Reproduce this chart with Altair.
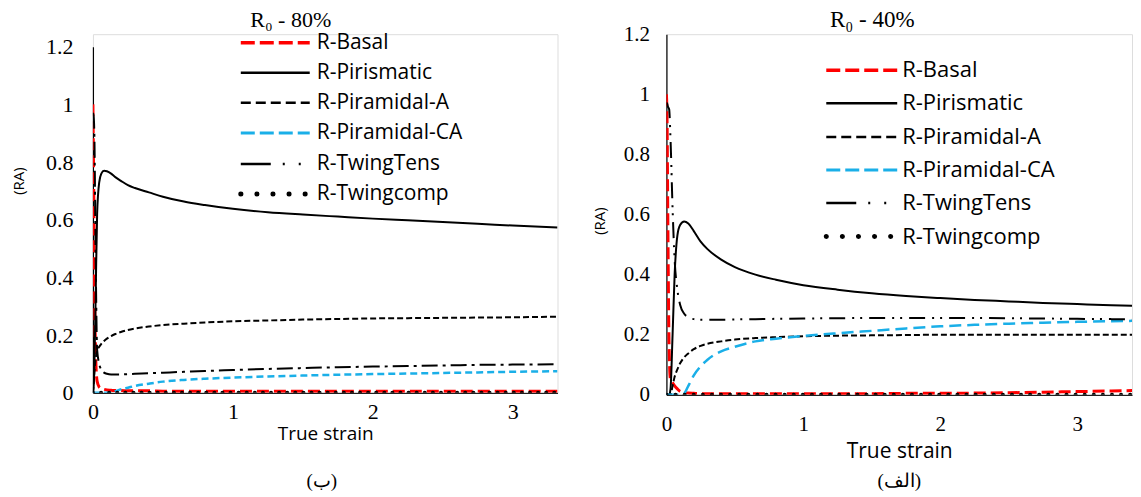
import altair as alt
import pandas as pd

SERIES = ["R-Basal", "R-Pirismatic", "R-Piramidal-A", "R-Piramidal-CA", "R-TwingTens", "R-Twingcomp"]

# ---------------- left panel (R0 - 80%) ----------------
L_STRAIN = [0, 0.005, 0.01, 0.02, 0.03, 0.045, 0.06, 0.08, 0.1, 0.13, 0.16, 0.2, 0.25, 0.3,
            0.4, 0.5, 0.65, 0.8, 1.0, 1.25, 1.5, 1.75, 2.0, 2.25, 2.5, 2.75, 3.0, 3.32]
L_BASAL = [1.0, 0.75, 0.45, 0.12, 0.04, 0.02, 0.015, 0.012, 0.01, 0.009, 0.008, 0.008, 0.007, 0.007,
           0.007, 0.006, 0.006, 0.006, 0.006, 0.006, 0.006, 0.006, 0.006, 0.006, 0.006, 0.006, 0.006, 0.006]
L_PIRISMATIC = [0.0, 0.02, 0.08, 0.35, 0.62, 0.73, 0.76, 0.77, 0.768, 0.76, 0.748, 0.735, 0.72, 0.71,
                0.695, 0.68, 0.663, 0.651, 0.638, 0.626, 0.618, 0.611, 0.604, 0.598, 0.592, 0.586, 0.58, 0.573]
L_PIR_A = [0.0, 0.03, 0.07, 0.12, 0.145, 0.16, 0.17, 0.18, 0.188, 0.197, 0.204, 0.211, 0.218, 0.223,
           0.23, 0.235, 0.24, 0.244, 0.248, 0.251, 0.254, 0.256, 0.258, 0.259, 0.26, 0.261, 0.262, 0.264]
L_PIR_CA = [0.0, 0.0, 0.0, 0.0, 0.0, 0.0, 0.0, 0.0, 0.0, 0.002, 0.006, 0.012, 0.018, 0.024,
            0.032, 0.039, 0.045, 0.049, 0.053, 0.057, 0.06, 0.063, 0.065, 0.067, 0.069, 0.071, 0.073, 0.075]
L_TENS = [0.97, 0.96, 0.9, 0.45, 0.15, 0.1, 0.08, 0.07, 0.066, 0.064, 0.064, 0.064, 0.065, 0.066,
          0.068, 0.07, 0.073, 0.076, 0.079, 0.083, 0.086, 0.089, 0.091, 0.093, 0.095, 0.097, 0.098, 0.099]
L_COMP = [0.0, 0.0, 0.0, 0.0, 0.0, 0.0, 0.0, 0.0, 0.0, 0.0, 0.0, 0.0, 0.0, 0.0,
          0.0, 0.0, 0.0, 0.0, 0.0, 0.0, 0.0, 0.0, 0.0, 0.0, 0.0, 0.0, 0.0, 0.0]

# ---------------- right panel (R0 - 40%) ----------------
R_STRAIN = [0, 0.005, 0.01, 0.02, 0.03, 0.045, 0.06, 0.08, 0.1, 0.13, 0.16, 0.2, 0.25, 0.3,
            0.4, 0.5, 0.65, 0.8, 1.0, 1.25, 1.5, 1.75, 2.0, 2.25, 2.5, 2.75, 3.0, 3.25, 3.5]
R_BASAL = [1.0, 0.9, 0.6, 0.15, 0.05, 0.04, 0.03, 0.02, 0.012, 0.008, 0.006, 0.005, 0.004, 0.004,
           0.004, 0.004, 0.004, 0.004, 0.004, 0.004, 0.004, 0.005, 0.005, 0.006, 0.007, 0.009, 0.011, 0.013, 0.015]
R_PIRISMATIC = [0.0, 0.0, 0.0, 0.0, 0.02, 0.2, 0.4, 0.53, 0.565, 0.577, 0.57, 0.545, 0.51, 0.485,
                0.45, 0.425, 0.4, 0.383, 0.365, 0.35, 0.338, 0.329, 0.322, 0.316, 0.311, 0.306, 0.302, 0.298, 0.295]
R_PIR_A = [0.0, 0.0, 0.0, 0.0, 0.0, 0.03, 0.06, 0.085, 0.105, 0.125, 0.138, 0.152, 0.163, 0.17,
           0.178, 0.184, 0.189, 0.192, 0.195, 0.197, 0.198, 0.199, 0.2, 0.2, 0.2, 0.2, 0.2, 0.2, 0.2]
R_PIR_CA = [0.0, 0.0, 0.0, 0.0, 0.0, 0.0, 0.0, 0.0, 0.0, 0.005, 0.03, 0.065, 0.095, 0.117,
            0.145, 0.16, 0.178, 0.187, 0.196, 0.205, 0.213, 0.221, 0.228, 0.233, 0.237, 0.24, 0.243, 0.245, 0.247]
R_TENS = [0.97, 0.97, 0.96, 0.95, 0.85, 0.62, 0.45, 0.35, 0.3, 0.27, 0.258, 0.252, 0.25, 0.25,
          0.25, 0.251, 0.252, 0.253, 0.254, 0.255, 0.256, 0.256, 0.256, 0.256, 0.255, 0.254, 0.253, 0.252, 0.25]
R_COMP = [0.0, 0.0, 0.0, 0.0, 0.0, 0.0, 0.0, 0.0, 0.0, 0.0, 0.0, 0.0, 0.0, 0.0,
          0.0, 0.0, 0.0, 0.0, 0.0, 0.0, 0.0, 0.0, 0.0, 0.0, 0.0, 0.0, 0.0, 0.0, 0.0]

Y_TICKS = [0, 0.2, 0.4, 0.6, 0.8, 1.0, 1.2]
X_TICKS = [0, 1, 2, 3]

RED = "#FF0000"
BLUE = "#1AAFE8"
BLACK = "#000000"
SERIF = "Liberation Serif"
SANS = "Open Sans"


def make_panel(strain, values, title, sub, xmax, width, height, y_range, line_styles, legend_styles,
               title_xy, title_size, tick_size, xtitle_size, label_pad_x, title_pad_x,
               label_pad_y, title_pad_y, ytitle_y, leg_x0, leg_x1, leg_text_x, leg_rows,
               leg_font, sub_xy):
    x_axis = alt.Axis(values=X_TICKS, format="d", title="True strain", grid=False, ticks=False,
                      domain=True, domainColor=BLACK, domainWidth=1, labelFlush=False,
                      labelFont=SERIF, labelFontSize=tick_size, labelColor=BLACK,
                      labelPadding=label_pad_x, titleFont=SANS, titleFontSize=xtitle_size,
                      titleFontWeight="normal", titleColor=BLACK, titlePadding=title_pad_x)
    y_axis = alt.Axis(values=Y_TICKS, format=".1~f", title="(RA)", grid=False, ticks=False,
                      domain=True, domainColor=BLACK, domainWidth=1.2, labelFlush=False,
                      labelFont=SERIF, labelFontSize=tick_size, labelColor=BLACK,
                      labelPadding=label_pad_y, titleFont=SANS, titleFontSize=15,
                      titleFontWeight="normal", titleColor=BLACK, titlePadding=title_pad_y,
                      titleY=ytitle_y)
    xs = alt.Scale(domain=[0, xmax], nice=False, zero=False)
    ys = alt.Scale(domain=[0, 1.2], nice=False, range=y_range)

    layers = []
    for name, vals, st in zip(SERIES, values, line_styles):
        df = pd.DataFrame({"strain": strain, "ra": vals, "series": name})
        props = dict(color=st["color"], strokeWidth=st["width"], interpolate="monotone",
                     strokeCap=st.get("cap", "butt"), clip=True)
        if st.get("dash"):
            props["strokeDash"] = st["dash"]
        layers.append(
            alt.Chart(df).mark_line(**props).encode(
                x=alt.X("strain:Q", scale=xs, axis=x_axis),
                y=alt.Y("ra:Q", scale=ys, axis=y_axis),
            )
        )

    # legend drawn inside the plot
    for name, st, ly in zip(SERIES, legend_styles, leg_rows):
        ldf = pd.DataFrame({"series": [name]})
        props = dict(color=st["color"], strokeWidth=st["width"], strokeCap=st.get("cap", "butt"))
        if st.get("dash"):
            props["strokeDash"] = st["dash"]
        layers.append(
            alt.Chart(ldf).mark_rule(**props).encode(
                x=alt.value(leg_x0), x2=alt.value(leg_x1), y=alt.value(ly)
            )
        )
        layers.append(
            alt.Chart(ldf).mark_text(align="left", baseline="middle", font=SANS,
                                     fontSize=leg_font, color=BLACK).encode(
                x=alt.value(leg_text_x), y=alt.value(ly), text="series:N"
            )
        )

    # panel title and panel letter
    tdf = pd.DataFrame({"label": [title]})
    layers.append(
        alt.Chart(tdf).mark_text(align="center", baseline="middle", font=SERIF,
                                 fontSize=title_size, color=BLACK).encode(
            x=alt.value(title_xy[0]), y=alt.value(title_xy[1]), text="label:N"
        )
    )
    sdf = pd.DataFrame({"label": [sub]})
    layers.append(
        alt.Chart(sdf).mark_text(align="center", baseline="middle", font=SERIF, fontSize=19,
                                 color=BLACK).encode(
            x=alt.value(sub_xy[0]), y=alt.value(sub_xy[1]), text="label:N"
        )
    )

    return alt.layer(*layers).properties(width=width, height=height)


left_line = [
    dict(color=RED, width=3, dash=[12, 5]),
    dict(color=BLACK, width=2),
    dict(color=BLACK, width=2, dash=[6, 3]),
    dict(color=BLUE, width=2.5, dash=[7, 4]),
    dict(color=BLACK, width=2, dash=[16, 5, 3, 5]),
    dict(color=BLACK, width=4, dash=[0.1, 8], cap="round"),
]
right_line = [
    dict(color=RED, width=3, dash=[12, 5]),
    dict(color=BLACK, width=2),
    dict(color=BLACK, width=2, dash=[6, 3]),
    dict(color=BLUE, width=2.5, dash=[12, 6]),
    dict(color=BLACK, width=2, dash=[16, 7, 2, 6, 2, 7]),
    dict(color=BLACK, width=4, dash=[0.1, 9], cap="round"),
]
legend_style = [
    dict(color=RED, width=3.5, dash=[14, 5]),
    dict(color=BLACK, width=2.5),
    dict(color=BLACK, width=2.5, dash=[10, 5]),
    dict(color=BLUE, width=3, dash=[14, 5]),
    dict(color=BLACK, width=2.5, dash=[30, 12, 2, 14, 2, 20]),
    dict(color=BLACK, width=5, dash=[0.1, 16], cap="round"),
]

left = make_panel(
    L_STRAIN, [L_BASAL, L_PIRISMATIC, L_PIR_A, L_PIR_CA, L_TENS, L_COMP],
    "R\u2080 - 80%", "(ب)", 3.32, 465, 359, [359, 12.5], left_line, legend_style,
    title_xy=(198, -14), title_size=22, tick_size=22, xtitle_size=19,
    label_pad_x=9, title_pad_x=2, label_pad_y=20, title_pad_y=19, ytitle_y=146.5,
    leg_x0=148, leg_x1=217, leg_text_x=224, leg_rows=[8.5, 38.5, 68.5, 99, 130, 160],
    leg_font=21, sub_xy=(229, 447),
)
right = make_panel(
    R_STRAIN, [R_BASAL, R_PIRISMATIC, R_PIR_A, R_PIR_CA, R_TENS, R_COMP],
    "R\u2080 - 40%", "(الف)", 3.4, 466, 361, [361, 0], right_line, legend_style,
    title_xy=(206, -14), title_size=23, tick_size=21, xtitle_size=21,
    label_pad_x=19, title_pad_x=6, label_pad_y=17, title_pad_y=16, ytitle_y=186.5,
    leg_x0=160, leg_x1=231, leg_text_x=236, leg_rows=[36, 69, 103, 136, 169, 202.5],
    leg_font=22, sub_xy=(233, 447),
)

chart = alt.hconcat(left, right, spacing=109, bounds="flush").properties(
    padding={"left": 3, "top": 0, "right": 0, "bottom": 0}
).configure_view(stroke=None).configure(background="white")

chart.save("out.html", embed_options={"renderer": "svg", "actions": False})
